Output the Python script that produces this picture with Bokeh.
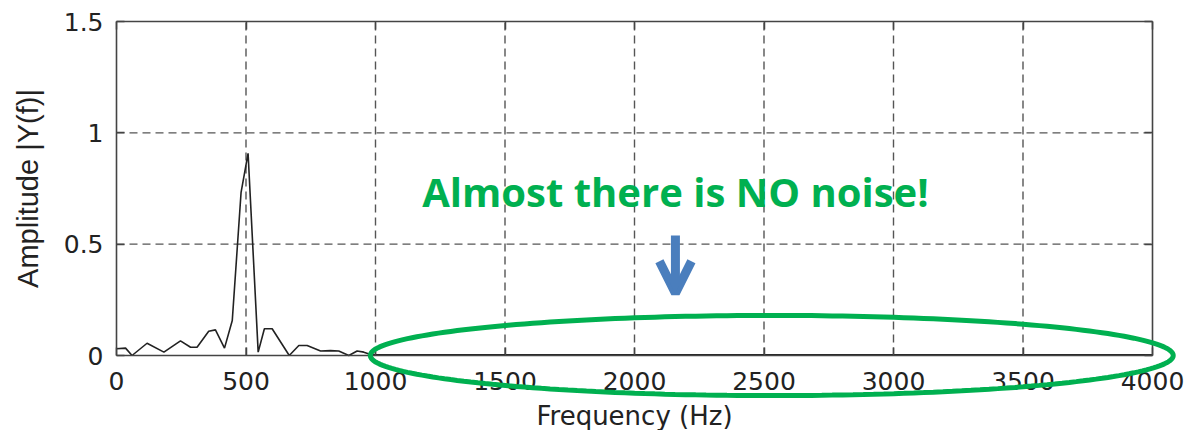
import numpy as np
from bokeh.plotting import figure
from bokeh.models import (Label, Arrow, OpenHead, PolyAnnotation, NumeralTickFormatter,
                          LinearAxis, Range1d)
from bokeh.embed import file_html
from bokeh.resources import INLINE

# ---- data ----
freq_hz = [0, 35, 60, 118, 183, 247, 286, 311, 356, 382, 417, 447, 481, 508,
           547, 571, 601, 667, 704, 736, 788, 826, 858, 897, 929, 955, 981,
           1000, 1500, 2000, 2500, 3000, 3500, 4000]
amplitude = [0.030, 0.033, 0.000, 0.055, 0.015, 0.066, 0.037, 0.037, 0.109,
             0.115, 0.033, 0.157, 0.733, 0.908, 0.015, 0.120, 0.120, 0.000,
             0.045, 0.045, 0.020, 0.022, 0.020, 0.000, 0.020, 0.015, 0.005,
             0.003, 0.003, 0.003, 0.003, 0.003, 0.003, 0.003]
x_ticks = [0, 500, 1000, 1500, 2000, 2500, 3000, 3500, 4000]
y_ticks = [0, 0.5, 1, 1.5]
x_label = "Frequency (Hz)"
y_label = "Amplitude |Y(f)|"
note_text = "Almost there is NO noise!"
note_pos = (2158, 0.735)
arrow_from = (2158, 0.539)
arrow_to = (2158, 0.280)
ellipse_center = (2530, 0.0)
ellipse_radii = (1550, 0.18)

X0, X1 = x_ticks[0], x_ticks[-1]
Y0, Y1 = y_ticks[0], y_ticks[-1]

GREEN = "#00B050"
BLUE = "#4A7EBD"
AX = "#444444"
TXT = "#222222"

W, H = 1187, 430
# pixel placement of the axes box inside the canvas
BOX_L, BOX_R, BOX_T, BOX_B = 116, 1152, 21, 355
sx = (BOX_R - BOX_L) / (X1 - X0)
sy = (BOX_B - BOX_T) / (Y1 - Y0)
xr = Range1d(X0 - BOX_L / sx, X1 + (W - BOX_R) / sx)
yr = Range1d(Y0 - (H - BOX_B) / sy, Y1 + BOX_T / sy)

p = figure(width=W, height=H, output_backend="svg", toolbar_location=None,
           x_range=xr, y_range=yr, min_border=0)
p.outline_line_color = None
p.background_fill_color = "white"
p.border_fill_color = "white"
p.grid.visible = False

# dashed grid inside the box, at the tick positions
GRID = dict(line_color="#555555", line_dash="8 5", line_width=1.4)
p.segment(x0=x_ticks[1:-1], y0=[Y0] * (len(x_ticks) - 2),
          x1=x_ticks[1:-1], y1=[Y1] * (len(x_ticks) - 2), **GRID)
p.segment(x0=[X0] * (len(y_ticks) - 2), y0=y_ticks[1:-1],
          x1=[X1] * (len(y_ticks) - 2), y1=y_ticks[1:-1], **GRID)

p.line(freq_hz, amplitude, line_color=TXT, line_width=1.6)


def style_axis(ax, labels=True):
    ax.axis_line_color = AX
    ax.axis_line_width = 1.6
    ax.major_tick_in = 8
    ax.major_tick_out = 0
    ax.major_tick_line_color = AX
    ax.major_tick_line_width = 1.5
    ax.minor_tick_line_color = None
    ax.major_label_text_font = "DejaVu Sans"
    ax.major_label_text_font_size = "25px"
    ax.major_label_text_color = TXT if labels else None
    ax.axis_label_text_font_style = "normal"
    ax.axis_label_text_color = TXT


xa = p.xaxis[0]
xa.ticker = x_ticks
xa.bounds = (X0, X1)
xa.fixed_location = Y0
xa.axis_label = x_label
style_axis(xa)
xa.axis_label_text_font = "DejaVu Sans"
xa.axis_label_text_font_size = "26px"
xa.major_label_standoff = 16
xa.axis_label_standoff = 8

ya = p.yaxis[0]
ya.ticker = y_ticks
ya.bounds = (Y0, Y1)
ya.fixed_location = X0
ya.formatter = NumeralTickFormatter(format="0.[0]")
ya.axis_label = y_label
style_axis(ya)
ya.axis_label_text_font = "Liberation Sans"
ya.axis_label_text_font_size = "29px"
ya.major_label_standoff = 13
ya.axis_label_standoff = 17

top = LinearAxis(ticker=x_ticks, bounds=(X0, X1), fixed_location=Y1)
style_axis(top, labels=False)
p.add_layout(top, "above")
right = LinearAxis(ticker=y_ticks, bounds=(Y0, Y1), fixed_location=X1)
style_axis(right, labels=False)
p.add_layout(right, "right")

# green ellipse (shape outline)
t = np.linspace(0, 2 * np.pi, 240)
ex = (ellipse_center[0] + ellipse_radii[0] * np.cos(t)).tolist()
ey = (ellipse_center[1] + ellipse_radii[1] * np.sin(t)).tolist()
p.add_layout(PolyAnnotation(xs=ex, ys=ey, fill_color=None, fill_alpha=0,
                            line_color=GREEN, line_alpha=1.0, line_width=5))

p.add_layout(Arrow(x_start=arrow_from[0], y_start=arrow_from[1],
                   x_end=arrow_to[0], y_end=arrow_to[1],
                   line_color=BLUE, line_width=9,
                   end=OpenHead(size=32, line_color=BLUE, line_width=9)))

p.add_layout(Label(x=note_pos[0], y=note_pos[1], text=note_text,
                   text_font="Open Sans", text_font_style="bold",
                   text_font_size="40px", text_color=GREEN,
                   text_align="center", text_baseline="alphabetic"))

open("out.html", "w").write(file_html(p, INLINE))
